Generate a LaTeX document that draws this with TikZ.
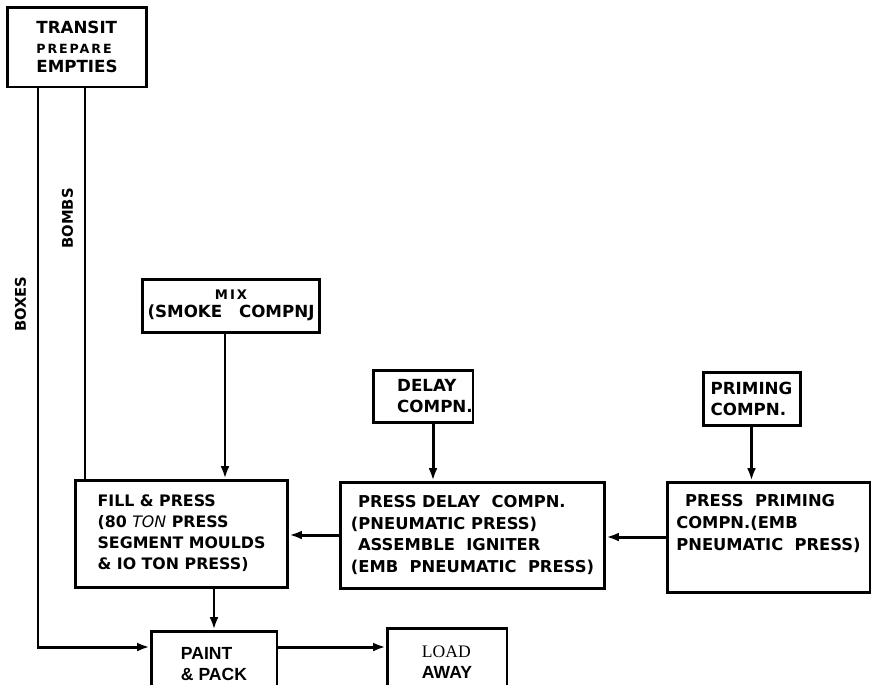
\documentclass[tikz,border=0pt]{standalone}
\usepackage{fontspec}
\setmainfont{DejaVu Sans}
\newfontfamily\spacedfont[LetterSpace=15]{DejaVu Sans}
\newfontfamily\arialfont{Liberation Sans}
\newfontfamily\timesfont{Liberation Serif}
\usetikzlibrary{arrows.meta}

\begin{document}
\begin{tikzpicture}[
  x=0.02cm, y=-0.02cm,
  >={Latex[length=7pt,width=5pt]},
  block/.style={rectangle, draw, line width=1.7pt, align=left, inner sep=0pt},
  flowline/.style={line width=1.7pt},
  tag/.style={rotate=90, anchor=south, inner sep=6pt, font=\bfseries\fontsize{8.4}{10}\selectfont}
]
\useasboundingbox (0,0) rectangle (874,684);

\coordinate (boxesx) at (38,0);
\coordinate (bombsx) at (85,0);
\coordinate (flow) at (0,647);

\node[block, minimum width=2.8cm, minimum height=1.6cm, font=\bfseries\fontsize{9.5}{11.3}\selectfont] (transit) at (77,47) {TRANSIT\\{\spacedfont\fontsize{7.2}{11.3}\selectfont PREPARE}\\EMPTIES};
\node[block, minimum width=3.56cm, minimum height=1.06cm, align=center, font=\bfseries\fontsize{9.5}{10.2}\selectfont] (mix) at (231,305.5) {{\spacedfont\fontsize{7.5}{10.2}\selectfont MIX}\\(SMOKE\hspace{1em}COMPNJ};
\node[block, minimum width=2cm, minimum height=1.04cm, font=\bfseries\fontsize{9.5}{12}\selectfont] (delay) at (423,396) {\hspace*{0.48cm}DELAY\\\hspace*{0.48cm}COMPN.};
\node[block, minimum width=1.94cm, minimum height=1.06cm, font=\bfseries\fontsize{9.5}{12}\selectfont] (priming) at (751.5,398.5) {PRIMING\\COMPN.};

\node[block, minimum width=4.26cm, minimum height=2.14cm, font=\bfseries\fontsize{9}{12}\selectfont] (fill) at (181.5,533.5) {FILL \& PRESS\\(80 {\mdseries\itshape TON} PRESS\\SEGMENT MOULDS\\\& IO TON PRESS)};
\node[block, minimum width=5.3cm, minimum height=2.12cm, font=\bfseries\fontsize{9.3}{12.3}\selectfont] (pdelay) at (472.5,535) {\hspace*{4pt}PRESS DELAY\ \ COMPN.\\(PNEUMATIC PRESS)\\\hspace*{4pt}ASSEMBLE\ \ IGNITER\\(EMB\ \ PNEUMATIC\ \ PRESS)};
\node[block, minimum width=4.06cm, minimum height=2.2cm, font=\bfseries\fontsize{9.3}{12.5}\selectfont] (pprime) at (768.5,537) {\hspace*{5pt}PRESS\ \ PRIMING\\COMPN.(EMB\\PNEUMATIC\ \ PRESS)\\\strut};

\node[block, minimum width=2.52cm, minimum height=1.32cm, font=\arialfont\bfseries\fontsize{10}{12}\selectfont] (paint) at (214,664) {PAINT\\\& PACK};
\node[block, minimum width=2.4cm, minimum height=1.38cm, font=\arialfont\bfseries\fontsize{10}{12}\selectfont] (load) at (447,662.5) {{\timesfont\mdseries LOAD}\\AWAY};

\draw[flowline,->] (transit.south -| boxesx) |- node[tag, pos=0.193] {BOXES} (paint.west |- flow);
\draw[flowline] (transit.south -| bombsx) -- node[tag, pos=0.333] {BOMBS} (fill.north -| bombsx);
\draw[flowline,->] ([xshift=-0.12cm]mix.south) -- ([xshift=-0.12cm]mix.south |- fill.north);
\draw[flowline,->] ([xshift=0.2cm]delay.south) -- ([xshift=0.2cm]delay.south |- pdelay.north);
\draw[flowline,->] (priming.south) -- (priming.south |- pprime.north);
\draw[flowline,->] (pdelay.west) -- (pdelay.west -| fill.east);
\draw[flowline,->] (pprime.west) -- (pprime.west -| pdelay.east);
\draw[flowline,->] (fill.south -| paint.north) -- (paint.north);
\draw[flowline,->] (paint.east |- flow) -- (load.west |- flow);
\end{tikzpicture}
\end{document}
